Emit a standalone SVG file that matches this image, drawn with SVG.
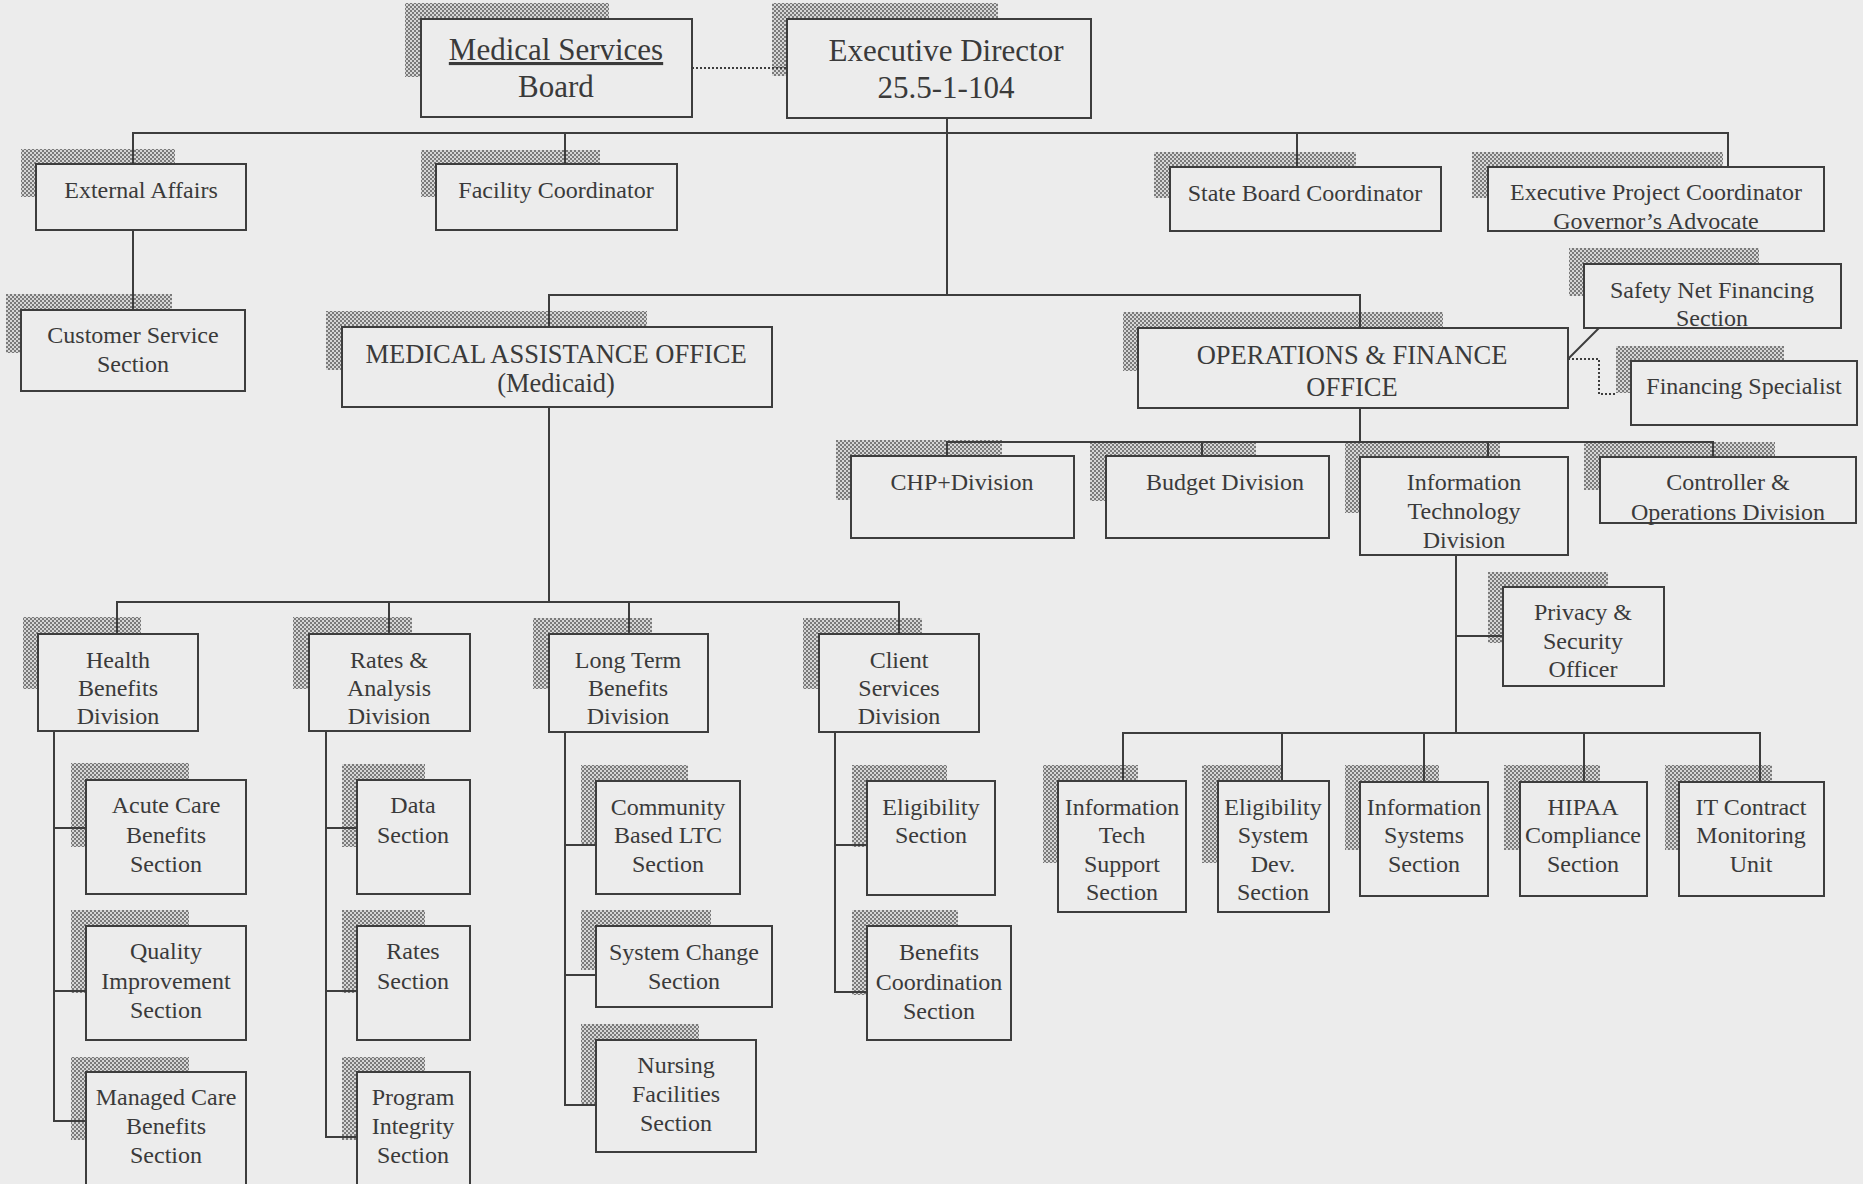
<svg xmlns="http://www.w3.org/2000/svg" width="1863" height="1184" viewBox="0 0 1863 1184">
<defs>
<pattern id="dots" width="4" height="4" patternUnits="userSpaceOnUse">
<rect width="4" height="4" fill="#d6d6d6"/>
<rect width="2" height="2" fill="#7a7a7a"/>
<rect x="2" y="2" width="2" height="2" fill="#7a7a7a"/>
</pattern>
</defs>
<style>
.bg{fill:#ececec}
.sh{fill:url(#dots)}
.box{fill:#ececec;stroke:#3d3d3d;stroke-width:2}
.t{font-family:'Liberation Serif','Times New Roman',serif;font-size:24px;fill:#3a3a3a;text-anchor:middle}
.big{font-size:31px}
.mid{font-size:26.5px}
.ln{stroke:#3d3d3d;stroke-width:2;fill:none}
.dt{stroke:#3d3d3d;stroke-width:2;fill:none;stroke-dasharray:2 2}
</style>
<rect class="bg" width="1863" height="1184"/>

<g id="nodes">
<g id="msb"><rect class="sh" x="405" y="3" width="204" height="74"/><rect class="box" x="421" y="19" width="271" height="98"/>
<text class="t big" x="556" y="60" style="text-decoration:underline">Medical Services</text><text class="t big" x="556" y="97">Board</text></g>
<g id="ed"><rect class="sh" x="772" y="3" width="226" height="73"/><rect class="box" x="787" y="19" width="304" height="99"/>
<text class="t big" x="946" y="61">Executive Director</text><text class="t big" x="946" y="98">25.5-1-104</text></g>

<g id="ext"><rect class="sh" x="21" y="149" width="154" height="48"/><rect class="box" x="36" y="164" width="210" height="66"/>
<text class="t" x="141" y="198">External Affairs</text></g>
<g id="fac"><rect class="sh" x="421" y="150" width="179" height="47"/><rect class="box" x="436" y="164" width="241" height="66"/>
<text class="t" x="556" y="198">Facility Coordinator</text></g>
<g id="sbc"><rect class="sh" x="1154" y="152" width="202" height="46"/><rect class="box" x="1170" y="167" width="271" height="64"/>
<text class="t" x="1305" y="201">State Board Coordinator</text></g>
<g id="epc"><rect class="sh" x="1472" y="152" width="251" height="46"/><rect class="box" x="1488" y="167" width="336" height="64"/>
<text class="t" x="1656" y="200">Executive Project Coordinator</text><text class="t" x="1656" y="229">Governor’s Advocate</text></g>
<g id="csr"><rect class="sh" x="6" y="294" width="166" height="59"/><rect class="box" x="21" y="310" width="224" height="81"/>
<text class="t" x="133" y="343">Customer Service</text><text class="t" x="133" y="372">Section</text></g>

<g id="mao"><rect class="sh" x="326" y="311" width="321" height="59"/><rect class="box" x="342" y="327" width="430" height="80"/>
<text class="t mid" x="556" y="363">MEDICAL ASSISTANCE OFFICE</text><text class="t mid" x="556" y="392">(Medicaid)</text></g>
<g id="ofo"><rect class="sh" x="1123" y="312" width="320" height="59"/><rect class="box" x="1138" y="328" width="430" height="80"/>
<text class="t mid" x="1352" y="364">OPERATIONS &amp; FINANCE</text><text class="t mid" x="1352" y="396">OFFICE</text></g>
<g id="snf"><rect class="sh" x="1569" y="248" width="190" height="48"/><rect class="box" x="1584" y="264" width="257" height="64"/>
<text class="t" x="1712" y="298">Safety Net Financing</text><text class="t" x="1712" y="326">Section</text></g>
<g id="fin"><rect class="sh" x="1616" y="346" width="168" height="47"/><rect class="box" x="1631" y="361" width="226" height="64"/>
<text class="t" x="1744" y="394">Financing Specialist</text></g>

<g id="chp"><rect class="sh" x="836" y="440" width="166" height="60"/><rect class="box" x="851" y="456" width="223" height="82"/>
<text class="t" x="962" y="490">CHP+Division</text></g>
<g id="bud"><rect class="sh" x="1090" y="441" width="166" height="60"/><rect class="box" x="1106" y="456" width="223" height="82"/>
<text class="t" x="1225" y="490">Budget Division</text></g>
<g id="itd"><rect class="sh" x="1345" y="442" width="155" height="71"/><rect class="box" x="1360" y="457" width="208" height="98"/>
<text class="t" x="1464" y="490">Information</text><text class="t" x="1464" y="519">Technology</text><text class="t" x="1464" y="548">Division</text></g>
<g id="ctl"><rect class="sh" x="1584" y="442" width="191" height="48"/><rect class="box" x="1600" y="457" width="256" height="66"/>
<text class="t" x="1728" y="490">Controller &amp;</text><text class="t" x="1728" y="520">Operations Division</text></g>
<g id="pso"><rect class="sh" x="1488" y="572" width="120" height="71"/><rect class="box" x="1503" y="587" width="161" height="99"/>
<text class="t" x="1583" y="620">Privacy &amp;</text><text class="t" x="1583" y="649">Security</text><text class="t" x="1583" y="677">Officer</text></g>

<g id="its"><rect class="sh" x="1043" y="765" width="95" height="98"/><rect class="box" x="1058" y="781" width="128" height="131"/>
<text class="t" x="1122" y="815">Information</text><text class="t" x="1122" y="843">Tech</text><text class="t" x="1122" y="872">Support</text><text class="t" x="1122" y="900">Section</text></g>
<g id="esd"><rect class="sh" x="1202" y="765" width="80" height="98"/><rect class="box" x="1218" y="781" width="111" height="131"/>
<text class="t" x="1273" y="815">Eligibility</text><text class="t" x="1273" y="843">System</text><text class="t" x="1273" y="872">Dev.</text><text class="t" x="1273" y="900">Section</text></g>
<g id="iss"><rect class="sh" x="1345" y="765" width="94" height="85"/><rect class="box" x="1360" y="782" width="128" height="114"/>
<text class="t" x="1424" y="815">Information</text><text class="t" x="1424" y="843">Systems</text><text class="t" x="1424" y="872">Section</text></g>
<g id="hip"><rect class="sh" x="1504" y="765" width="96" height="85"/><rect class="box" x="1520" y="782" width="127" height="114"/>
<text class="t" x="1583" y="815">HIPAA</text><text class="t" x="1583" y="843">Compliance</text><text class="t" x="1583" y="872">Section</text></g>
<g id="itc"><rect class="sh" x="1665" y="765" width="107" height="85"/><rect class="box" x="1679" y="782" width="145" height="114"/>
<text class="t" x="1751" y="815">IT Contract</text><text class="t" x="1751" y="843">Monitoring</text><text class="t" x="1751" y="872">Unit</text></g>

<g id="hbd"><rect class="sh" x="23" y="617" width="118" height="72"/><rect class="box" x="38" y="634" width="160" height="97"/>
<text class="t" x="118" y="668">Health</text><text class="t" x="118" y="696">Benefits</text><text class="t" x="118" y="724">Division</text></g>
<g id="rad"><rect class="sh" x="293" y="617" width="119" height="72"/><rect class="box" x="309" y="634" width="161" height="97"/>
<text class="t" x="389" y="668">Rates &amp;</text><text class="t" x="389" y="696">Analysis</text><text class="t" x="389" y="724">Division</text></g>
<g id="ltb"><rect class="sh" x="533" y="618" width="119" height="71"/><rect class="box" x="549" y="634" width="159" height="98"/>
<text class="t" x="628" y="668">Long Term</text><text class="t" x="628" y="696">Benefits</text><text class="t" x="628" y="724">Division</text></g>
<g id="csd"><rect class="sh" x="803" y="618" width="119" height="71"/><rect class="box" x="819" y="634" width="160" height="98"/>
<text class="t" x="899" y="668">Client</text><text class="t" x="899" y="696">Services</text><text class="t" x="899" y="724">Division</text></g>

<g id="acb"><rect class="sh" x="71" y="763" width="118" height="84"/><rect class="box" x="86" y="780" width="160" height="114"/>
<text class="t" x="166" y="813">Acute Care</text><text class="t" x="166" y="843">Benefits</text><text class="t" x="166" y="872">Section</text></g>
<g id="qis"><rect class="sh" x="71" y="910" width="118" height="83"/><rect class="box" x="86" y="926" width="160" height="114"/>
<text class="t" x="166" y="959">Quality</text><text class="t" x="166" y="989">Improvement</text><text class="t" x="166" y="1018">Section</text></g>
<g id="mcb"><rect class="sh" x="71" y="1057" width="118" height="83"/><rect class="box" x="86" y="1072" width="160" height="130"/>
<text class="t" x="166" y="1105">Managed Care</text><text class="t" x="166" y="1134">Benefits</text><text class="t" x="166" y="1163">Section</text></g>

<g id="das"><rect class="sh" x="342" y="764" width="83" height="83"/><rect class="box" x="357" y="780" width="113" height="114"/>
<text class="t" x="413" y="813">Data</text><text class="t" x="413" y="843">Section</text></g>
<g id="ras"><rect class="sh" x="342" y="910" width="83" height="83"/><rect class="box" x="357" y="926" width="113" height="114"/>
<text class="t" x="413" y="959">Rates</text><text class="t" x="413" y="989">Section</text></g>
<g id="pis"><rect class="sh" x="342" y="1057" width="83" height="83"/><rect class="box" x="357" y="1072" width="113" height="130"/>
<text class="t" x="413" y="1105">Program</text><text class="t" x="413" y="1134">Integrity</text><text class="t" x="413" y="1163">Section</text></g>

<g id="cbl"><rect class="sh" x="581" y="765" width="107" height="80"/><rect class="box" x="596" y="781" width="144" height="113"/>
<text class="t" x="668" y="815">Community</text><text class="t" x="668" y="843">Based LTC</text><text class="t" x="668" y="872">Section</text></g>
<g id="scs"><rect class="sh" x="581" y="910" width="130" height="60"/><rect class="box" x="596" y="926" width="176" height="81"/>
<text class="t" x="684" y="960">System Change</text><text class="t" x="684" y="989">Section</text></g>
<g id="nfs"><rect class="sh" x="581" y="1024" width="118" height="81"/><rect class="box" x="596" y="1040" width="160" height="112"/>
<text class="t" x="676" y="1073">Nursing</text><text class="t" x="676" y="1102">Facilities</text><text class="t" x="676" y="1131">Section</text></g>

<g id="els"><rect class="sh" x="852" y="765" width="95" height="82"/><rect class="box" x="867" y="781" width="128" height="114"/>
<text class="t" x="931" y="815">Eligibility</text><text class="t" x="931" y="843">Section</text></g>
<g id="bcs"><rect class="sh" x="852" y="910" width="106" height="85"/><rect class="box" x="867" y="926" width="144" height="114"/>
<text class="t" x="939" y="960">Benefits</text><text class="t" x="939" y="990">Coordination</text><text class="t" x="939" y="1019">Section</text></g>
</g>

<g id="connectors">
<path class="dt" d="M692 68H787"/>
<path class="ln" d="M947 118V295"/>
<path class="ln" d="M133 164V133H1728V167M565 133V164M1297 133V167"/>
<path class="ln" d="M133 230V310"/>
<path class="ln" d="M549 327V295H1360V328"/>
<path class="ln" d="M1568 359L1599 328"/>
<path class="dt" d="M1568 359H1599V394H1616"/>
<path class="ln" d="M1360 408V442M947 456V442H1713V457M1202 442V456M1488 442V457"/>
<path class="ln" d="M1456 555V733M1456 636H1503"/>
<path class="ln" d="M1123 781V733H1760V782M1282 733V781M1424 733V782M1584 733V782"/>
<path class="ln" d="M549 407V602M117 634V602H899V634M389 602V634M629 602V634"/>
<path class="ln" d="M54 731V1121H86M54 828H86M54 991H86"/>
<path class="ln" d="M326 731V1137H357M326 828H357M326 991H357"/>
<path class="ln" d="M565 732V1105H596M565 845H596M565 975H596"/>
<path class="ln" d="M835 732V992H867M835 845H867"/>
</g>
</svg>
